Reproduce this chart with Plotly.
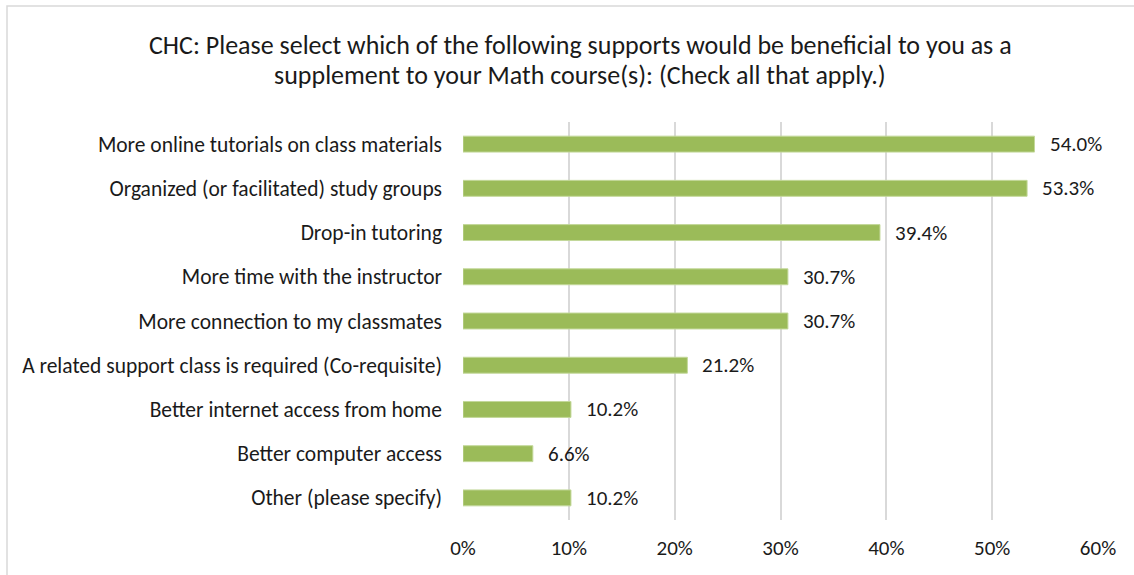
import plotly.graph_objects as go

# Survey responses (share of respondents selecting each support)
categories = [
    "More online tutorials on class materials",
    "Organized (or facilitated) study groups",
    "Drop-in tutoring",
    "More time with the instructor",
    "More connection to my classmates",
    "A related support class is required (Co-requisite)",
    "Better internet access from home",
    "Better computer access",
    "Other (please specify)",
]
shares = [0.540, 0.533, 0.394, 0.307, 0.307, 0.212, 0.102, 0.066, 0.102]
tick_vals = [0, 0.1, 0.2, 0.3, 0.4, 0.5, 0.6]
tick_text = ["0%", "10%", "20%", "30%", "40%", "50%", "60%"]
title_lines = [
    "CHC: Please select which of the following supports would be beneficial to you as a",
    "supplement to your Math course(s): (Check all that apply.)",
]

FONT = "Calibri, Carlito, Lato, sans-serif"
INK = "#1a1a1a"
W, H = 1134, 575
L, R, T, B = 463, 36, 122, 55
pw, ph = W - L - R, H - T - B

fig = go.Figure(
    go.Bar(
        x=shares,
        y=categories,
        orientation="h",
        marker=dict(color="#9BBB59", line=dict(color="#c3d89a", width=1)),
        hoverinfo="skip",
    )
)

# value labels to the right of each bar
for c, v in zip(categories, shares):
    fig.add_annotation(
        x=v, y=c, xref="x", yref="y",
        text=f"{v * 100:.1f}%",
        showarrow=False, xanchor="left", xshift=13,
        font=dict(family=FONT, size=21, color=INK),
    )

# two-line chart title, one annotation per line
for i, line in enumerate(title_lines):
    fig.add_annotation(
        x=(580 - L) / pw, y=1 + (T - (45 + 30 * i)) / ph,
        xref="paper", yref="paper",
        text=line, showarrow=False, xanchor="center", yanchor="middle",
        font=dict(family=FONT, size=26, color=INK),
    )

# chart-area border
fig.add_shape(
    type="rect", xref="paper", yref="paper",
    x0=(7 - L) / pw, x1=1.2, y0=-0.3, y1=1 + (T - 6) / ph,
    line=dict(color="#d9d9d9", width=1.5), fillcolor="rgba(0,0,0,0)", layer="below",
)

fig.update_layout(
    width=W, height=H,
    margin=dict(l=L, r=R, t=T, b=B),
    paper_bgcolor="white", plot_bgcolor="white",
    bargap=0.64,
    showlegend=False,
    font=dict(family=FONT, size=21, color=INK),
    xaxis=dict(
        range=[0, 0.6], tickvals=tick_vals, ticktext=tick_text,
        showgrid=True, gridcolor="#d9d9d9", gridwidth=1.5,
        zeroline=False, showline=False, ticks="",
        ticklabelstandoff=13, fixedrange=True,
    ),
    yaxis=dict(
        autorange="reversed", showgrid=False, zeroline=False,
        showline=False, ticks="", ticklabelstandoff=20, fixedrange=True,
        tickfont=dict(family=FONT, size=21.5, color=INK),
    ),
)

fig.write_html("out.html")
